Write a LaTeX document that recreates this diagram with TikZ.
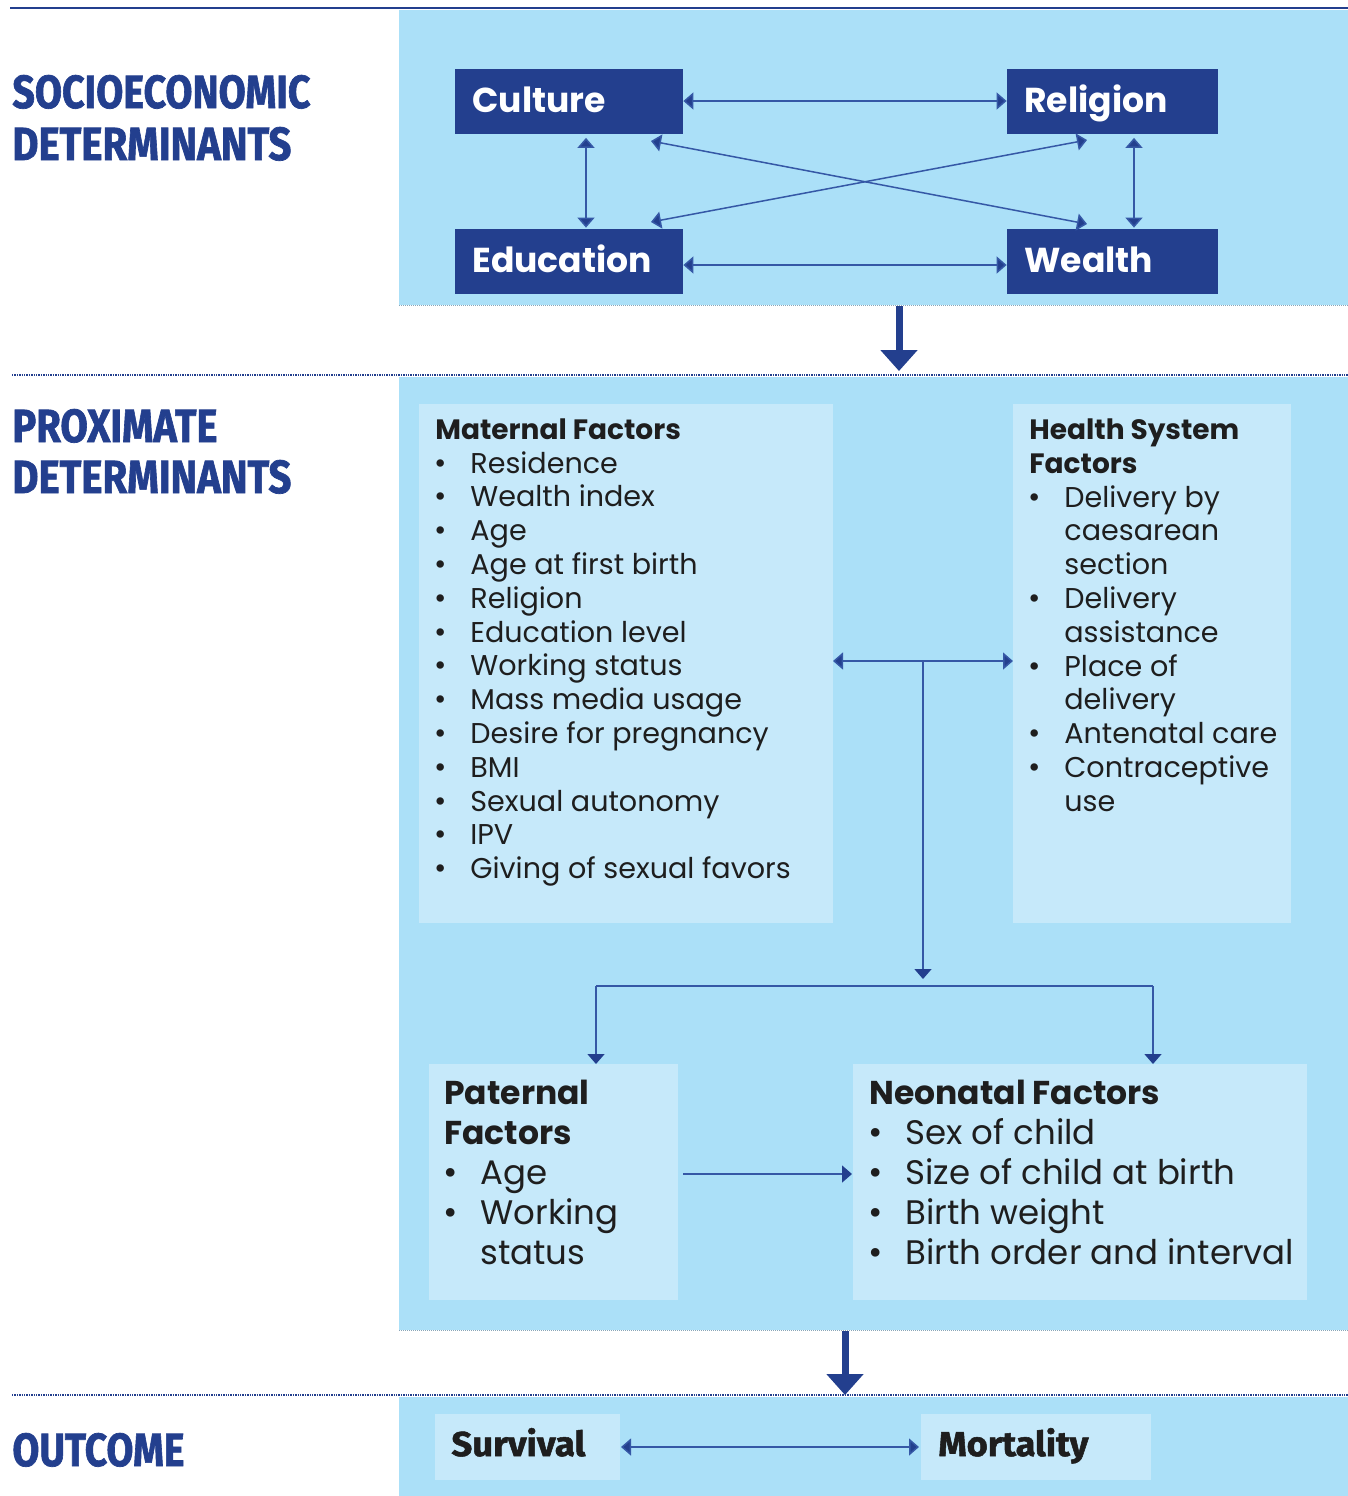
\documentclass[tikz,border=0pt]{standalone}
\usepackage{fontspec}
\setmainfont{Poppins}
\newfontfamily\headfont{Fira Sans}[BoldFeatures={FakeBold=1.5}]
\usetikzlibrary{arrows.meta}
\definecolor{panel}{HTML}{ABE0F8}
\definecolor{inner}{HTML}{C6E9FA}
\definecolor{navy}{HTML}{233F8E}
\definecolor{txt}{HTML}{1E1E1E}
\definecolor{arr}{HTML}{3558A6}
\definecolor{edge}{HTML}{8AA6B8}
\tikzset{
  panelbox/.style={fill=panel, draw=none},
  innerbox/.style={fill=inner, draw=none},
  navybox/.style={fill=navy, draw=none},
  conn/.style={draw=arr, line width=0.75pt, {Triangle[length=5pt,width=8.5pt,fill=navy]}-{Triangle[length=5pt,width=8.5pt,fill=navy]}, color=arr},
  oneway/.style={draw=arr, line width=0.75pt, -{Triangle[length=5pt,width=8.5pt,color=navy]}},
  plain/.style={draw=arr, line width=0.75pt},
  bigarrow/.style={draw=navy, line width=3.5pt, -{Triangle[length=10.5pt,width=18pt]}},
  dotline/.style={draw=navy, line width=1.2pt, dash pattern=on 0.7pt off 0.5pt},
  greydot/.style={draw=edge, line width=0.5pt, dash pattern=on 0.5pt off 0.5pt},
  head/.style={anchor=base west, inner sep=0, text=navy},
  boxlabel/.style={anchor=base west, inner sep=0, text=white, font=\fontsize{17.3}{20}\selectfont\bfseries},
  mtxt/.style={anchor=base west, inner sep=0, text=txt, font=\fontsize{14.3}{17}\selectfont},
  mtitle/.style={anchor=base west, inner sep=0, text=txt, font=\fontsize{14}{17}\selectfont\bfseries},
  ntxt/.style={anchor=base west, inner sep=0, text=txt, font=\fontsize{17}{20}\selectfont},
  ntitle/.style={anchor=base west, inner sep=0, text=txt, font=\fontsize{16.5}{20}\selectfont\bfseries},
  mbul/.style={anchor=base, inner sep=0, text=txt, font=\fontsize{15}{17}\selectfont},
  nbul/.style={anchor=base, inner sep=0, text=txt, font=\fontsize{17.5}{20}\selectfont},
  outlabel/.style={anchor=base west, inner sep=0, text=txt},
}
\begin{document}
\begin{tikzpicture}[x=0.5pt,y=-0.5pt]
\useasboundingbox (0,0) rectangle (1348,1496);
\fill[white] (0,0) rectangle (1348,1496);
% panels
\path[panelbox] (399,10) rectangle (1348,305);
\path[panelbox] (399,377) rectangle (1348,1330);
\path[panelbox] (399,1397) rectangle (1348,1496);
\draw[greydot] (399,305) -- (1348,305);
\draw[greydot] (399,1330) -- (1348,1330);
% lines
\draw[navy, line width=0.6pt] (10,8) -- (1348,8);
\draw[dotline] (12,375) -- (1348,375);
\draw[dotline] (12,1395) -- (1348,1395);
% headings
\node[head] (h1) at (12,108) {\resizebox{149pt}{16.5pt}{\headfont\bfseries SOCIOECONOMIC}};
\node[head] (h2) at (12,160) {\resizebox{139.5pt}{16.5pt}{\headfont\bfseries DETERMINANTS}};
\node[head] (h3) at (12,442) {\resizebox{102.5pt}{16.5pt}{\headfont\bfseries PROXIMATE}};
\node[head] (h4) at (12,493) {\resizebox{139.5pt}{16.5pt}{\headfont\bfseries DETERMINANTS}};
\node[head] (h5) at (12,1466) {\resizebox{86pt}{16.5pt}{\headfont\bfseries OUTCOME}};
% socioeconomic boxes
\node[navybox, minimum width=114pt, minimum height=32.5pt, inner sep=0] (cul) at (569,101) {};
\node[navybox, minimum width=105.5pt, minimum height=32.5pt, inner sep=0] (rel) at (1112.5,101) {};
\node[navybox, minimum width=114pt, minimum height=32.5pt, inner sep=0] (edu) at (569,261.5) {};
\node[navybox, minimum width=105.5pt, minimum height=32.5pt, inner sep=0] (wea) at (1112.5,261.5) {};
\node[boxlabel] (culT) at (472,112) {Culture};
\node[boxlabel] (relT) at (1024,112) {Religion};
\node[boxlabel] (eduT) at (472,272) {Education};
\node[boxlabel] (weaT) at (1024,272) {Wealth};
\coordinate (c1) at (683,101); \coordinate (r1) at (1007,101);
\coordinate (c2) at (683,265); \coordinate (r2) at (1007,265);
\draw[conn] (cul.east |- c1) -- (rel.west |- r1);
\draw[conn] (edu.east |- c2) -- (wea.west |- r2);
\draw[conn] ([yshift=-2pt]cul.south -| 586,0) -- ([yshift=0.5pt]edu.north -| 586,0);
\draw[conn] ([yshift=-2pt]rel.south -| 1134,0) -- ([yshift=0.5pt]wea.north -| 1134,0);
\coordinate (d1) at (651,141); \coordinate (d2) at (1087,224);
\coordinate (d3) at (651,222); \coordinate (d4) at (1087,140);
\draw[conn] (d1) -- (d2);
\draw[conn] (d3) -- (d4);
% big arrows
\coordinate (ba1) at (899,306); \coordinate (ba2) at (899,371);
\draw[bigarrow] (ba1) -- (ba2);
\coordinate (ba3) at (845,1331); \coordinate (ba4) at (845,1395);
\draw[bigarrow] (ba3) -- (ba4);
% proximate boxes
\path[innerbox] (419,404) rectangle (833,923);
\path[innerbox] (1013,404) rectangle (1291,923);
\path[innerbox] (429,1064) rectangle (678,1300);
\path[innerbox] (853,1064) rectangle (1307,1300);
\coordinate (mat) at (833,661); \coordinate (hsf) at (1013,661);
\coordinate (junc) at (923,661); \coordinate (jdown) at (923,979);
\draw[conn] (mat) -- (hsf);
\draw[oneway] (junc) -- (jdown);
\coordinate (bl) at (596,986); \coordinate (br) at (1153,986);
\coordinate (pat) at (596,1064); \coordinate (neo) at (1153,1064);
\draw[plain] (bl) -- (br);
\draw[oneway] (bl) -- (pat);
\draw[oneway] (br) -- (neo);
\coordinate (p1) at (683,1174); \coordinate (n1) at (852,1174);
\draw[oneway] (p1) -- (n1);
% maternal text
\node[mtitle] (matT) at (435,439) {Maternal Factors};
\foreach \t [count=\i] in {Residence,Wealth index,Age,Age at first birth,Religion,Education level,Working status,Mass media usage,Desire for pregnancy,BMI,Sexual autonomy,IPV,Giving of sexual favors}{
  \node[mbul] (mb\i) at (441,{473+(\i-1)*33.8}) {•};
  \node[mtxt] (m\i) at (470,{473+(\i-1)*33.8}) {\t};
}
% health text
\node[mtitle] (hsT1) at (1029,439) {Health System};
\node[mtitle] (hsT2) at (1029,473) {Factors};
\foreach \t/\b [count=\i] in {Delivery by/1,caesarean/0,section/0,Delivery/1,assistance/0,Place of/1,delivery/0,Antenatal care/1,Contraceptive/1,use/0}{
  \node[mtxt] (hs\i) at (1064,{507+(\i-1)*33.8}) {\t};
  \ifnum\b=1 \node[mbul] (hb\i) at (1035,{507+(\i-1)*33.8}) {•}; \fi
}
% paternal text
\node[ntitle] (paT1) at (444,1104) {Paternal};
\node[ntitle] (paT2) at (444,1144) {Factors};
\node[nbul] (pb1) at (451,1184) {•};
\node[ntxt] (pa1) at (480,1184) {Age};
\node[nbul] (pb2) at (451,1224) {•};
\node[ntxt] (pa2) at (480,1224) {Working};
\node[ntxt] (pa3) at (480,1264) {status};
% neonatal text
\node[ntitle] (neT) at (869,1104) {Neonatal Factors};
\foreach \t [count=\i] in {Sex of child,Size of child at birth,Birth weight,Birth order and interval}{
  \node[nbul] (nb\i) at (876,{1144+(\i-1)*40}) {•};
  \node[ntxt] (ne\i) at (905,{1144+(\i-1)*40}) {\t};
}
% outcome
\path[innerbox] (435,1414) rectangle (620,1480);
\path[innerbox] (921,1414) rectangle (1151,1480);
\node[outlabel] (surv) at (451,1456) {\resizebox{67pt}{14pt}{\headfont\bfseries Survival}};
\node[outlabel] (mort) at (938,1456) {\resizebox{75pt}{14pt}{\headfont\bfseries Mortality}};
\coordinate (s1) at (621,1447); \coordinate (m1o) at (919,1447);
\draw[conn] (s1) -- (m1o);
\end{tikzpicture}
\end{document}
